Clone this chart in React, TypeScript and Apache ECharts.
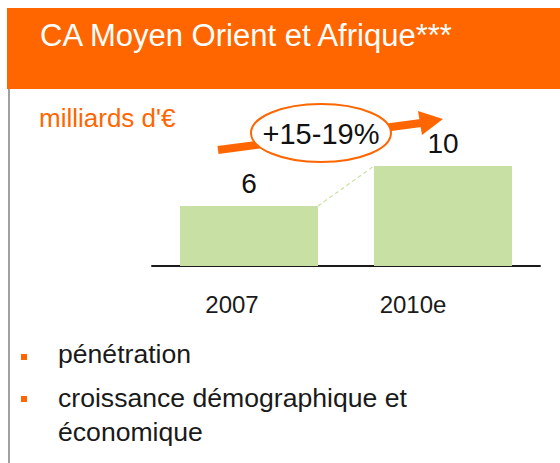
import React, { useEffect, useRef } from "react";
import * as echarts from "echarts";

const categories = ["2007", "2010e"];
const values = [6, 10];
const growthLabel = "+15-19%";
const titleText = "CA Moyen Orient et Afrique***";
const unitText = "milliards d'€";
const bullets = ["pénétration", "croissance démographique et", "économique"];

const ORANGE = "#FF6600";
const GREEN = "#C9E0A5";
const FONT = "'Liberation Sans', Arial, Helvetica, sans-serif";

export default function App() {
  const ref = useRef<HTMLDivElement>(null);
  useEffect(() => {
    if (!ref.current) return;
    const chart = echarts.init(ref.current, null, { renderer: "svg" });
    const option: any = {
      animation: false,
      backgroundColor: "#ffffff",
      grid: { left: 152, right: 20, top: 66, bottom: 197, containLabel: false },
      xAxis: {
        type: "category",
        data: categories,
        axisLine: { show: true, lineStyle: { color: "#1a1a1a", width: 2 } },
        axisTick: { show: false },
        axisLabel: {
          margin: 26,
          fontFamily: FONT,
          fontSize: 24,
          color: "#1a1a1a",
          formatter: (v: string, i: number) => (i === 0 ? `{a|${v}}` : `{b|${v}}`),
          rich: {
            a: { fontFamily: FONT, fontSize: 24, color: "#1a1a1a", padding: [0, 34, 0, 0] },
            b: { fontFamily: FONT, fontSize: 24, color: "#1a1a1a", padding: [0, 60, 0, 0] },
          },
        },
      },
      yAxis: {
        type: "value",
        min: 0,
        max: 20,
        show: false,
        splitLine: { show: false },
      },
      series: [
        {
          type: "bar",
          data: values,
          barWidth: 138,
          itemStyle: { color: GREEN },
          label: {
            show: true,
            position: "top",
            distance: 9,
            fontFamily: FONT,
            fontSize: 28,
            color: "#111",
          },
        },
      ],
      graphic: [
        { type: "rect", shape: { x: 7, y: 8, width: 553, height: 81 }, style: { fill: ORANGE }, z: 10 },
        { type: "rect", shape: { x: 8, y: 89, width: 2, height: 374 }, style: { fill: "#A0A0A0" }, z: 10 },
        {
          type: "text", x: 40, y: 35, z: 11,
          style: { text: titleText, font: `31px ${FONT}`, fill: "#ffffff", verticalAlign: "middle", align: "left" },
        },
        {
          type: "text", x: 39, y: 118, z: 11,
          style: { text: unitText, font: `26px ${FONT}`, fill: ORANGE, verticalAlign: "middle", align: "left" },
        },
        { type: "rect", shape: { x: 21, y: 354, width: 6, height: 6 }, style: { fill: ORANGE }, z: 11 },
        { type: "rect", shape: { x: 21, y: 396, width: 6, height: 6 }, style: { fill: ORANGE }, z: 11 },
        {
          type: "text", x: 58, y: 354, z: 11,
          style: { text: bullets[0], font: `26.6px ${FONT}`, fill: "#1a1a1a", verticalAlign: "middle", align: "left" },
        },
        {
          type: "text", x: 58, y: 398, z: 11,
          style: { text: bullets[1], font: `26.6px ${FONT}`, fill: "#1a1a1a", verticalAlign: "middle", align: "left" },
        },
        {
          type: "text", x: 58, y: 432, z: 11,
          style: { text: bullets[2], font: `26.6px ${FONT}`, fill: "#1a1a1a", verticalAlign: "middle", align: "left" },
        },
        // arrow
        {
          type: "line", z: 12,
          shape: { x1: 218, y1: 150, x2: 421, y2: 123 },
          style: { stroke: ORANGE, lineWidth: 8 },
        },
        {
          type: "polygon", z: 12,
          shape: { points: [[418, 111], [443, 119], [422, 135]] },
          style: { fill: ORANGE },
        },
        {
          type: "ellipse", z: 13,
          shape: { cx: 321, cy: 133, rx: 70, ry: 29 },
          style: { fill: "#ffffff", stroke: ORANGE, lineWidth: 2 },
        },
        {
          type: "text", x: 321, y: 134, z: 14,
          style: { text: growthLabel, font: `29px ${FONT}`, fill: "#111", verticalAlign: "middle", align: "center" },
        },
      ],
    };
    chart.setOption(option);
    const half = 69;
    const p1 = chart.convertToPixel({ seriesIndex: 0 }, [0, values[0]]) as number[];
    const p2 = chart.convertToPixel({ seriesIndex: 0 }, [1, values[1]]) as number[];
    chart.setOption({
      graphic: [
        ...option.graphic,
        {
          type: "line", z: 5,
          shape: { x1: p1[0] + half, y1: p1[1], x2: p2[0] - half, y2: p2[1] },
          style: { stroke: GREEN, lineWidth: 1.2, lineDash: [4, 3] },
        },
      ],
    });
    return () => chart.dispose();
  }, []);
  return (
    <div
      ref={ref}
      style={{ position: "absolute", left: 0, top: 0, width: 560, height: 463 }}
    />
  );
}
